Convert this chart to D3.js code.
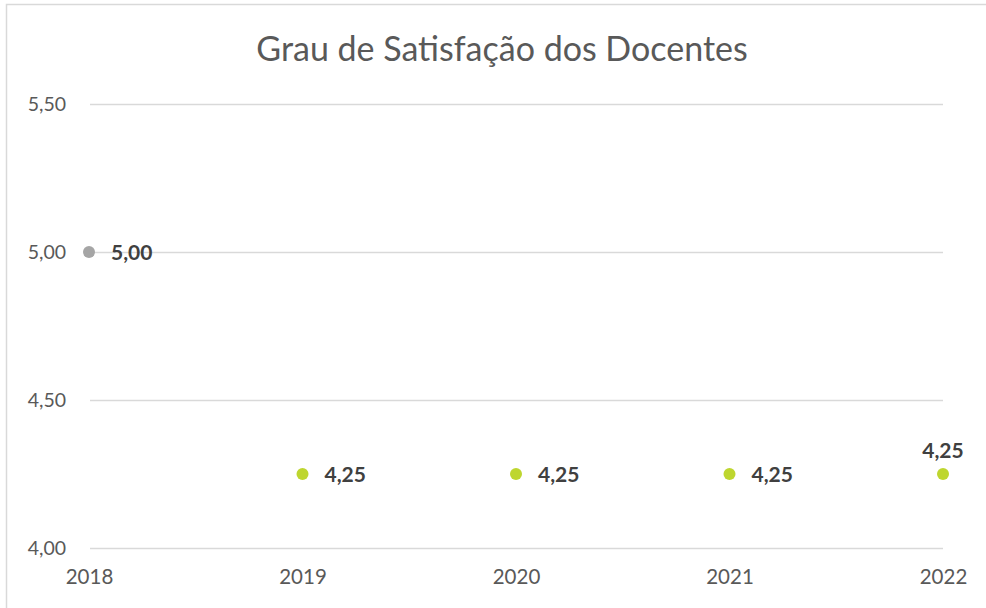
<!DOCTYPE html>
<html><head><meta charset="utf-8">
<script src="https://cdn.jsdelivr.net/npm/d3@7"></script>
<style>body{margin:0;background:#fff}svg{display:block}</style>
</head><body>
<script>
const years = ["2018","2019","2020","2021","2022"];
const values = [5.00, 4.25, 4.25, 4.25, 4.25];
const pointColors = ["#a5a5a5","#bed62f","#bed62f","#bed62f","#bed62f"];
const yTicks = [4.0, 4.5, 5.0, 5.5];
const title = "Grau de Satisfação dos Docentes";

const W = 986, H = 608;
const font = "Lato, 'Open Sans', sans-serif";
const svg = d3.select("body").append("svg").attr("width", W).attr("height", H);

svg.append("rect").attr("x", 6.5).attr("y", 4.5).attr("width", W + 10).attr("height", H + 10)
  .attr("fill", "#fff").attr("stroke", "#d9d9d9").attr("stroke-width", 1.5);

const x = d3.scalePoint().domain(years).range([89, 943]);
const y = d3.scaleLinear().domain([4, 5.5]).range([548, 104]);
const fmt = v => d3.format(".2f")(v).replace(".", ",");

svg.append("text").attr("x", 502).attr("y", 61).attr("text-anchor", "middle")
  .attr("font-family", font).attr("font-size", 34).attr("fill", "#595959").text(title);

const yAxis = svg.append("g").attr("transform", "translate(90,0)")
  .call(d3.axisLeft(y).tickValues(yTicks).tickSize(-853).tickFormat(fmt).tickPadding(24));
yAxis.select(".domain").remove();
yAxis.selectAll("line").attr("stroke", "#d9d9d9").attr("stroke-width", 1.5);
yAxis.selectAll("text").attr("font-family", font).attr("font-size", 19.5).attr("fill", "#595959");

const xAxis = svg.append("g").attr("transform", "translate(0,548)")
  .call(d3.axisBottom(x).tickSize(0).tickPadding(21));
xAxis.select(".domain").remove();
xAxis.selectAll("text").attr("font-family", font).attr("font-size", 20.5).attr("fill", "#595959");

const data = years.map((yr, i) => ({yr, v: values[i], c: pointColors[i], last: i === years.length - 1}));
svg.selectAll("circle.pt").data(data).join("circle").attr("class","pt")
  .attr("cx", d => x(d.yr)).attr("cy", d => y(d.v)).attr("r", 6).attr("fill", d => d.c);

svg.selectAll("text.lbl").data(data).join("text").attr("class","lbl")
  .attr("x", d => d.last ? x(d.yr) : x(d.yr) + 22)
  .attr("y", d => d.last ? y(d.v) - 16 : y(d.v) + 8)
  .attr("text-anchor", d => d.last ? "middle" : "start")
  .attr("font-family", font).attr("font-weight", "bold").attr("font-size", 21).attr("fill", "#404040")
  .text(d => fmt(d.v));
</script>
</body></html>
